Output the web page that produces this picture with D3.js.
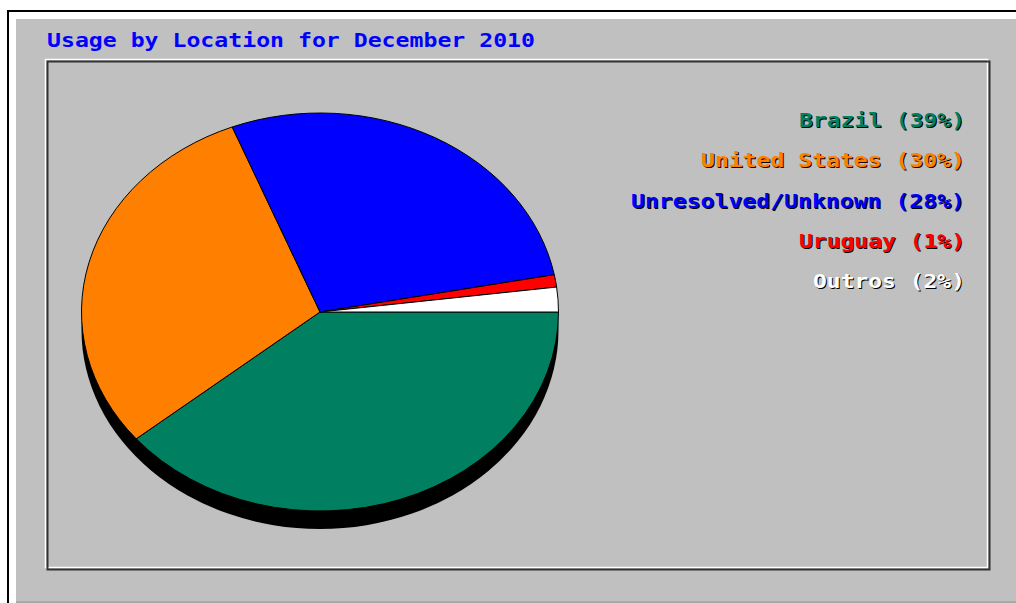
<!DOCTYPE html>
<html>
<head>
<meta charset="utf-8">
<script src="https://cdn.jsdelivr.net/npm/d3@7"></script>
<style>
  html, body { margin: 0; padding: 0; background: #ffffff; }
  svg { display: block; }
  text { font-family: "DejaVu Sans Mono", "Liberation Mono", monospace; font-weight: bold; }
</style>
</head>
<body>
<script>
// Monthly usage split by visitor location
const title = "Usage by Location for December 2010";
const locations = ["Brazil", "United States", "Unresolved/Unknown", "Uruguay", "Outros"];
const shares = [39, 30, 28, 1, 2];
const sliceColors = ["#008060", "#ff8000", "#0000ff", "#ff0000", "#ffffff"];

const W = 1016, H = 603;
const svg = d3.select("body").append("svg").attr("width", W).attr("height", H);

// page frame: black rule on top/left, white margin, grey panel
svg.append("rect").attr("x", 7).attr("y", 10).attr("width", W).attr("height", H).attr("fill", "#000");
svg.append("rect").attr("x", 9).attr("y", 12).attr("width", W).attr("height", H).attr("fill", "#fff");
svg.append("rect").attr("x", 16).attr("y", 19).attr("width", W).attr("height", H).attr("fill", "#c0c0c0");
svg.append("rect").attr("x", 16).attr("y", 601).attr("width", W).attr("height", 2).attr("fill", "#a8a8a8");

// plot box with highlight and shadow edges
svg.append("rect").attr("x", 45.5).attr("y", 59.5).attr("width", 942).attr("height", 508)
  .attr("fill", "none").attr("stroke", "#ffffff").attr("stroke-width", 1.5);
svg.append("rect").attr("x", 47.5).attr("y", 61.5).attr("width", 942).attr("height", 508)
  .attr("fill", "none").attr("stroke", "#333333").attr("stroke-width", 2);

// title
const cell = 14;
svg.append("text")
  .attr("x", 47).attr("y", 47)
  .attr("font-size", 19)
  .attr("fill", "#0000ff")
  .attr("textLength", title.length * cell - 2)
  .attr("lengthAdjust", "spacingAndGlyphs")
  .text(title);

// pie geometry
const cx = 320, cy = 312, rx = 238.5, ry = 199, depth = 18;

const pie = d3.pie().sort(null).value(d => d)
  .startAngle(Math.PI / 2).endAngle(Math.PI / 2 + 2 * Math.PI);
const arcs = pie(shares);
const arc = d3.arc().innerRadius(0).outerRadius(ry);

// drop shadow under the disc
svg.append("ellipse")
  .attr("cx", cx).attr("cy", cy + depth).attr("rx", rx).attr("ry", ry)
  .attr("fill", "#000");

const g = svg.append("g")
  .attr("transform", `translate(${cx},${cy}) scale(${rx / ry},1)`);

g.selectAll("path.slice")
  .data(arcs)
  .join("path")
  .attr("class", "slice")
  .attr("d", arc)
  .attr("fill", (d, i) => sliceColors[i])
  .attr("stroke", "#000")
  .attr("stroke-width", 1)
  .attr("vector-effect", "non-scaling-stroke")
  .attr("stroke-linejoin", "round");

// legend, right aligned with dark drop shadow
const legendRight = 965, legendTop = 127, legendStep = 40.3;
const legend = svg.append("g");
locations.forEach((name, i) => {
  const label = `${name} (${shares[i]}%)`;
  const y = legendTop + i * legendStep;
  const len = label.length * cell - 2;
  legend.append("text")
    .attr("x", legendRight + 1).attr("y", y + 1)
    .attr("text-anchor", "end").attr("font-size", 19)
    .attr("fill", "#000")
    .attr("textLength", len).attr("lengthAdjust", "spacingAndGlyphs")
    .text(label);
  legend.append("text")
    .attr("x", legendRight).attr("y", y)
    .attr("text-anchor", "end").attr("font-size", 19)
    .attr("fill", sliceColors[i])
    .attr("textLength", len).attr("lengthAdjust", "spacingAndGlyphs")
    .text(label);
});
</script>
</body>
</html>
